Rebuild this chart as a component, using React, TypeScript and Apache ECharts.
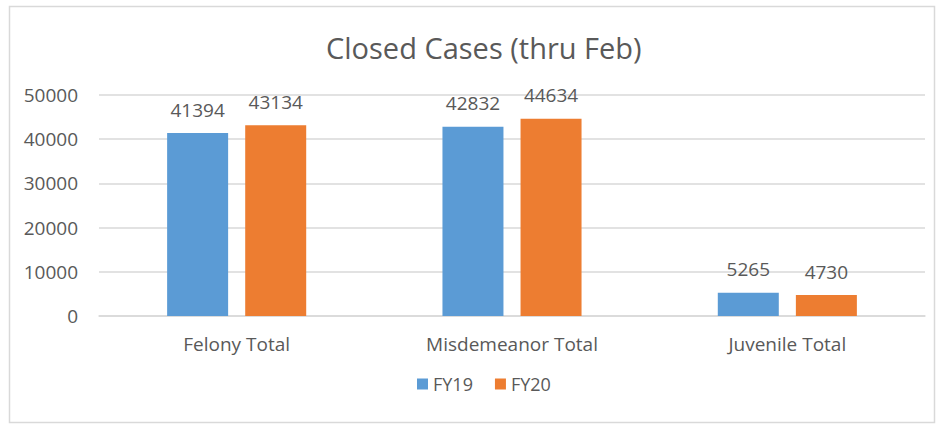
import React, { useEffect, useRef } from "react";
import * as echarts from "echarts";

const categories = ["Felony Total", "Misdemeanor Total", "Juvenile Total"];
const fy19 = [41394, 42832, 5265];
const fy20 = [43134, 44634, 4730];
const seriesNames = ["FY19", "FY20"];

const FONT = "'Open Sans', 'Noto Sans', sans-serif";
const TXT = "#595959";

export default function App() {
  const ref = useRef<HTMLDivElement>(null);
  useEffect(() => {
    const chart = echarts.init(ref.current!, null, { renderer: "svg" });
    chart.setOption({
      animation: false,
      backgroundColor: "#ffffff",
      textStyle: { fontFamily: FONT },
      title: {
        text: "Closed Cases (thru Feb)",
        left: 321,
        top: 28,
        textStyle: { fontFamily: FONT, fontSize: 29, fontWeight: "normal", color: TXT },
      },
      graphic: [
        {
          type: "rect",
          shape: { x: 9.5, y: 6.5, width: 925, height: 416 },
          style: { fill: "none", stroke: "#d9d9d9", lineWidth: 1.5 },
          silent: true,
        },
      ],
      legend: {
        data: seriesNames,
        bottom: 26,
        left: 412,
        itemWidth: 11,
        itemHeight: 11,
        itemGap: 22,
        icon: "rect",
        textStyle: { fontFamily: FONT, fontSize: 18, color: TXT },
      },
      grid: { left: 99, right: 16, top: 95, bottom: 108 },
      xAxis: {
        type: "category",
        data: categories,
        axisLine: { lineStyle: { color: "#d9d9d9", width: 1.5 } },
        axisTick: { show: false },
        axisLabel: { fontFamily: FONT, fontSize: 19, color: TXT, margin: 18 },
      },
      yAxis: {
        type: "value",
        min: 0,
        max: 50000,
        interval: 10000,
        axisLine: { show: false },
        axisTick: { show: false },
        splitLine: { lineStyle: { color: "#d9d9d9", width: 1.5 } },
        axisLabel: {
          fontFamily: FONT,
          fontSize: 19,
          color: TXT,
          margin: 21,
          formatter: (v: number) => String(v),
        },
      },
      series: [
        {
          name: seriesNames[0],
          type: "bar",
          data: fy19,
          barWidth: 61,
          barGap: "28%",
          itemStyle: { color: "#5B9BD5" },
          label: { show: true, position: "top", distance: 14, fontFamily: FONT, fontSize: 19, color: TXT },
        },
        {
          name: seriesNames[1],
          type: "bar",
          data: fy20,
          barWidth: 61,
          barGap: "28%",
          itemStyle: { color: "#ED7D31" },
          label: { show: true, position: "top", distance: 14, fontFamily: FONT, fontSize: 19, color: TXT },
        },
      ],
    });
    return () => chart.dispose();
  }, []);
  return (
    <div
      ref={ref}
      style={{ position: "absolute", left: 0, top: 0, width: 941, height: 424 }}
    />
  );
}
